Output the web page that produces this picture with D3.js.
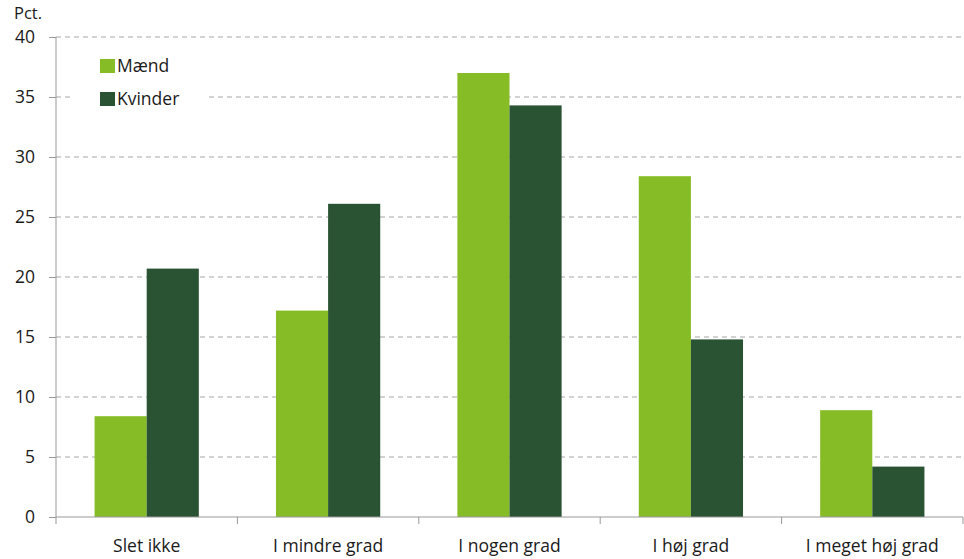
<!DOCTYPE html>
<html>
<head>
<meta charset="utf-8">
<script src="https://cdn.jsdelivr.net/npm/d3@7"></script>
<style>
  body { margin: 0; background: #fff; }
  text { font-family: "Open Sans", sans-serif; fill: #1a1a1a; }
</style>
</head>
<body>
<div id="chart"></div>
<script>
const width = 964;
const height = 559;

const categories = ['Slet ikke', 'I mindre grad', 'I nogen grad', 'I høj grad', 'I meget høj grad'];
const seriesNames = ['Mænd', 'Kvinder'];
const maend = [8.4, 17.2, 37.0, 28.4, 8.9];
const kvinder = [20.7, 26.1, 34.3, 14.8, 4.2];
const yTicks = [0, 5, 10, 15, 20, 25, 30, 35, 40];
const colors = ['#86bc25', '#2a5334'];

const margin = {left: 56, right: 1, top: 37, bottom: 42};
const fontSize = '17.5px';

const svg = d3.select('#chart')
    .append('svg')
    .attr('width', width)
    .attr('height', height);

const x0 = d3.scaleBand()
    .domain(categories)
    .range([margin.left, width - margin.right])
    .paddingInner(0)
    .paddingOuter(0);

const x1 = d3.scaleBand()
    .domain(seriesNames)
    .range([0, x0.bandwidth()])
    .paddingInner(0)
    .paddingOuter(0.74);

const y = d3.scaleLinear()
    .domain([0, 40])
    .range([height - margin.bottom, margin.top]);

// gridlines
svg.append('g')
    .selectAll('line')
    .data(yTicks.filter(d => d > 0))
    .enter()
    .append('line')
    .attr('x1', margin.left)
    .attr('x2', width - margin.right)
    .attr('y1', d => y(d))
    .attr('y2', d => y(d))
    .attr('stroke', '#a6a6a6')
    .attr('stroke-width', 1)
    .attr('stroke-dasharray', '5,4');

// bars
const data = categories.map((c, i) => ({cat: c, vals: [maend[i], kvinder[i]]}));
const groups = svg.append('g')
    .selectAll('g')
    .data(data)
    .enter()
    .append('g')
    .attr('transform', d => `translate(${x0(d.cat)},0)`);

groups.selectAll('rect')
    .data(d => d.vals.map((v, j) => ({name: seriesNames[j], value: v, j: j})))
    .enter()
    .append('rect')
    .attr('x', d => x1(d.name))
    .attr('width', x1.bandwidth())
    .attr('y', d => y(d.value))
    .attr('height', d => y(0) - y(d.value))
    .attr('fill', d => colors[d.j]);

// y axis
const yAxis = svg.append('g')
    .attr('transform', `translate(${margin.left},0)`)
    .call(d3.axisLeft(y).tickValues(yTicks).tickSize(7).tickPadding(14));
yAxis.select('.domain').attr('stroke', '#999').attr('d', `M0,${y(40)}V${y(0)}`);
yAxis.selectAll('.tick line').attr('stroke', '#999');
yAxis.selectAll('.tick text').style('font-size', fontSize).attr('fill', '#1a1a1a');

// x axis
const xAxis = svg.append('g')
    .attr('transform', `translate(0,${y(0)})`);
xAxis.append('line')
    .attr('x1', margin.left)
    .attr('x2', width - margin.right)
    .attr('stroke', '#999');
xAxis.selectAll('.cat-tick')
    .data(categories.concat(['end']))
    .enter()
    .append('line')
    .attr('x1', (d, i) => margin.left + i * x0.step())
    .attr('x2', (d, i) => margin.left + i * x0.step())
    .attr('y1', 0)
    .attr('y2', 7)
    .attr('stroke', '#999');
xAxis.selectAll('text')
    .data(categories)
    .enter()
    .append('text')
    .attr('x', d => x0(d) + x0.bandwidth() / 2)
    .attr('y', 35)
    .attr('text-anchor', 'middle')
    .style('font-size', fontSize)
    .text(d => d);

// unit label
svg.append('text')
    .attr('x', 14)
    .attr('y', 19)
    .style('font-size', '16.5px')
    .text('Pct.');

// legend
const legend = svg.append('g')
    .attr('transform', 'translate(100,57)');
legend.append('rect')
    .attr('x', -30)
    .attr('y', -8)
    .attr('width', 135)
    .attr('height', 60)
    .attr('fill', '#fff');
seriesNames.forEach((s, i) => {
    legend.append('rect')
        .attr('x', 0)
        .attr('y', 2 + i * 33)
        .attr('width', 15)
        .attr('height', 14)
        .attr('fill', colors[i]);
    legend.append('text')
        .attr('x', 17)
        .attr('y', 15 + i * 33)
        .style('font-size', fontSize)
        .text(s);
});
</script>
</body>
</html>
